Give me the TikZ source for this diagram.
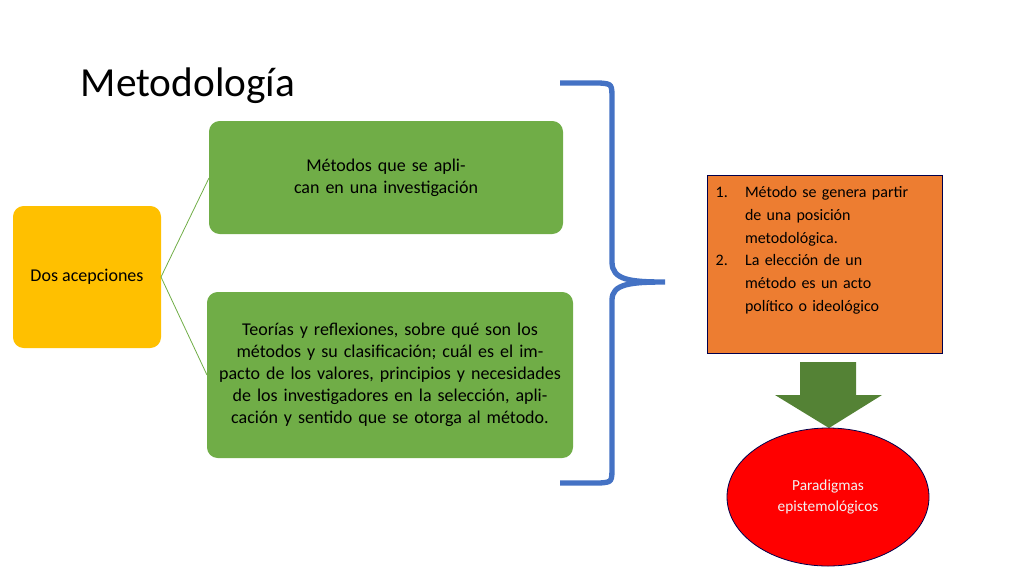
\documentclass[tikz,border=0pt]{standalone}
\usepackage{fontspec}
\setmainfont{Carlito}
\usetikzlibrary{shapes.geometric}
\definecolor{gr}{HTML}{70AD47}
\definecolor{yl}{HTML}{FFC000}
\definecolor{bl}{HTML}{4472C4}
\definecolor{orn}{HTML}{ED7D31}
\definecolor{dg}{HTML}{548235}
\tikzset{box/.style={rounded corners=8pt,align=center,inner sep=4pt},
 txt/.style={font=\fontsize{13.5}{16.5}\selectfont}}
\begin{document}
\begin{tikzpicture}[x=0.75pt,y=-0.75pt]
\useasboundingbox (0,0) rectangle (1024,576);
\node[anchor=west,font=\fontsize{31}{36}\selectfont] (title) at (76,86) {Metodología};
\fill[yl,rounded corners=8pt] (13,206) rectangle (161,348);
\node[txt] (dos) at (87,277) {Dos acepciones};
\fill[gr,rounded corners=8pt] (209,121) rectangle (563,234);
\node[txt,align=center,text width=230pt] (m1) at (386,178) {Métodos que se aplican en una investigación};
\fill[gr,rounded corners=8pt] (207,292) rectangle (573,458);
\node[txt,align=center,text width=265pt] (m2) at (390,375) {Teorías y reflexiones, sobre qué son los métodos y su clasificación; cuál es el impacto de los valores, principios y necesidades de los investigadores en la selección, aplicación y sentido que se otorga al método.};
\coordinate (dr) at (161,277);
\coordinate (g1) at (209,178);
\coordinate (g2) at (207,375);
\draw[gr,line width=0.6pt] (dr) -- (g1) (dr) -- (g2);
\draw[bl,line width=4pt] (560,83) -- (600,83) .. controls (612,84) .. (612,100) -- (612,262) .. controls (612,280) and (630,282) .. (665,282) .. controls (630,282) and (612,284) .. (612,300) -- (612,466) .. controls (612,482) .. (600,483) -- (560,483);
\draw[fill=orn,draw=black!70!blue,line width=0.6pt] (707,175) rectangle (942,353);
\node[anchor=north west,align=left,font=\fontsize{12}{17}\selectfont,text width=160pt] (list) at (711,182) {%
\makebox[22pt][l]{1.}Método se genera partir\\\hspace*{22pt}de una posición\\\hspace*{22pt}metodológica.\\
\makebox[22pt][l]{2.}La elección de un\\\hspace*{22pt}método es un acto\\\hspace*{22pt}político o ideológico};
\fill[dg] (800,362) -- (856,362) -- (856,395) -- (882,395) -- (829,428) -- (775,395) -- (800,395) -- cycle;
\node[ellipse,fill=red,draw=black!70!blue,line width=0.6pt,minimum width=151.5pt,minimum height=103.5pt,align=center,text=white!95!black,font=\fontsize{11.5}{16}\selectfont] (par) at (828,497) {Paradigmas\\epistemológicos};
\end{tikzpicture}
\end{document}
